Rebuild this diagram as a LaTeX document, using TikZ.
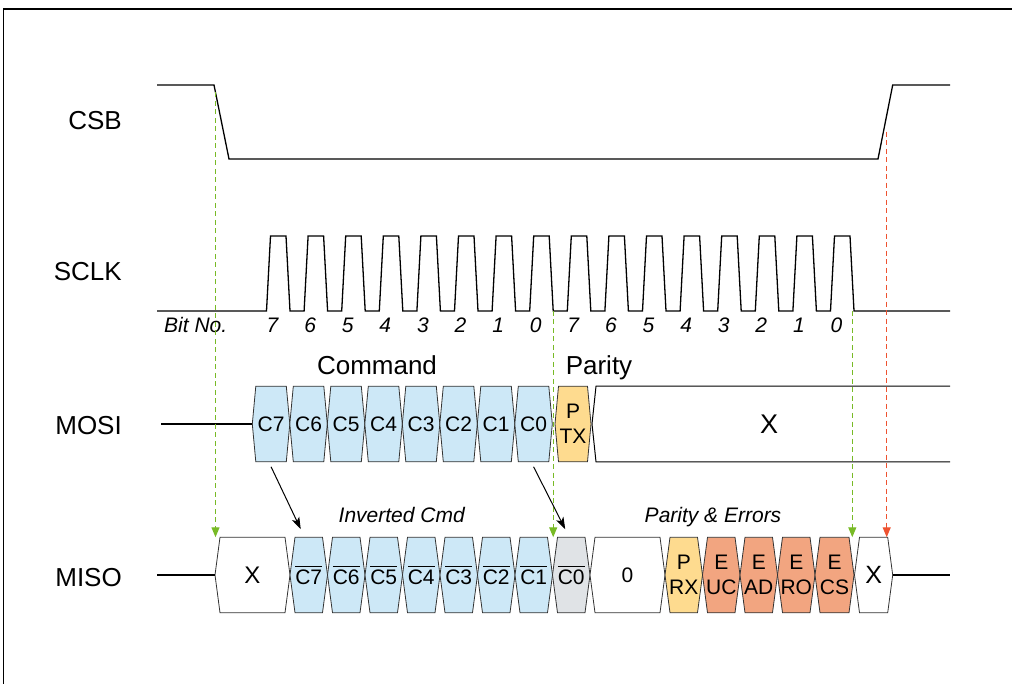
\documentclass[tikz,border=0pt]{standalone}
\usepackage{fontspec}
\setmainfont{Liberation Sans}
\usetikzlibrary{arrows.meta,calc}

\definecolor{cmdblue}{RGB}{205,232,247}
\definecolor{paryellow}{RGB}{254,219,143}
\definecolor{errorange}{RGB}{242,165,128}
\definecolor{invgray}{RGB}{224,227,230}
\definecolor{markgreen}{RGB}{120,186,38}
\definecolor{markred}{RGB}{238,82,48}

% one bus cell: name, left x, right x, middle y, slant, fill, text
\newcommand\sigcell[7]{%
  \path (#2,#4) ++({(#3-#2)/2},0) node[cellbox, minimum width={(#3-#2)*1pt}] (#1) {};
  \filldraw[cellline, fill=#6] (#1.west) -- ([xshift=#5pt]#1.north west)
    -- ([xshift=-#5pt]#1.north east) -- (#1.east)
    -- ([xshift=-#5pt]#1.south east) -- ([xshift=#5pt]#1.south west) -- cycle;
  \node[celltext] (#1-t) at (#1.center) {#7};
}
% inverted bit: text with a bar over it
\newcommand\inv[1]{\vbox{\hrule height 1.1pt\kern 2.6pt\hbox{#1}}}

\begin{document}
\begin{tikzpicture}[x=1pt,y=-1pt,
  sig/.style={line width=1.3pt, black, line join=miter},
  cellline/.style={draw=black!80, line width=0.8pt},
  cellbox/.style={inner sep=0pt, outer sep=0pt, minimum height=75.5pt},
  celltext/.style={inner sep=0pt, font=\fontsize{21}{24.5}\selectfont, align=center},
  lbl/.style={font=\fontsize{26}{31}\selectfont, anchor=base east, inner sep=0pt},
  head/.style={font=\fontsize{26}{31}\selectfont, anchor=base, inner sep=0pt},
  note/.style={font=\fontsize{21}{25}\selectfont\itshape, anchor=base, inner sep=0pt},
  bitno/.style={font=\fontsize{21}{25}\selectfont\itshape, anchor=base, inner sep=0pt},
  timemark/.style={dash pattern=on 5pt off 3.5pt, line width=1.3pt,
    -{Triangle[length=10pt,width=8pt]}},
  link/.style={line width=1pt, -{Stealth[length=12pt,width=8pt,inset=3pt]}}
]
\useasboundingbox (0,0) rectangle (1012,684);

% frame
\draw[line width=1.5pt] (3,9) -- (1012,9);
\draw[line width=1pt] (3.5,9) -- (3.5,684);

% signal names
\node[lbl] (lcsb)  at (122,130) {CSB};
\node[lbl] (lsclk) at (122,281) {SCLK};
\node[lbl] (lmosi) at (122,434) {MOSI};
\node[lbl] (lmiso) at (122,586) {MISO};

% chip select
\coordinate (csbA) at (157,85);
\coordinate (csbB) at (214,85);
\coordinate (csbC) at (229,159);
\coordinate (csbD) at (878,159);
\coordinate (csbE) at (892.7,85);
\coordinate (csbF) at (950,85);
\draw[sig] (csbA) -- (csbB) -- (csbC) -- (csbD) -- (csbE) -- (csbF);

% serial clock, 16 pulses
\draw[sig] (157,311) foreach \i in {0,...,15} {
    -- ({266.5+37.6*\i},311) -- ({270.5+37.6*\i},236)
    -- ({286+37.6*\i},236) -- ({290+37.6*\i},311) } -- (950,311);
\coordinate (clk8)  at (553.2,311);
\coordinate (clk16) at (852.3,311);

% bit numbers
\node[bitno, anchor=base west] (bitlbl) at (164,333) {Bit No.};
\foreach \b [count=\i from 0] in {7,6,5,4,3,2,1,0,7,6,5,4,3,2,1,0}
  \node[bitno] (bit\i) at ({272.5+37.6*\i},333) {\b};

% MOSI
\node[head] (hcmd) at (377,375) {Command};
\node[head] (hpar) at (599,375) {Parity};
\sigcell{mC7}{252.3}{289.8}{424}{3.5}{cmdblue}{C7}
\sigcell{mC6}{289.8}{327.3}{424}{3.5}{cmdblue}{C6}
\sigcell{mC5}{327.3}{364.8}{424}{3.5}{cmdblue}{C5}
\sigcell{mC4}{364.8}{402.3}{424}{3.5}{cmdblue}{C4}
\sigcell{mC3}{402.3}{439.8}{424}{3.5}{cmdblue}{C3}
\sigcell{mC2}{439.8}{477.3}{424}{3.5}{cmdblue}{C2}
\sigcell{mC1}{477.3}{514.8}{424}{3.5}{cmdblue}{C1}
\sigcell{mC0}{514.8}{552.3}{424}{3.5}{cmdblue}{C0}
\sigcell{mP}{555}{591}{424}{3.5}{paryellow}{P\\TX}
\coordinate (mosiIn) at (161,424);
\draw[sig] (mosiIn) -- (mC7.west);
\path (592,424) ++(179,0) node[cellbox, minimum width=358pt] (mX) {};
\draw[line width=1pt, black] (mX.north east) -- ([xshift=4pt]mX.north west) -- (mX.west)
  -- ([xshift=4pt]mX.south west) -- (mX.south east);
\node[celltext, font=\fontsize{27}{31}\selectfont] (mX-t) at ([xshift=-2pt]mX.center) {X};

% MISO
\node[note] (hinv) at (401.7,522) {Inverted Cmd};
\node[note] (herr) at (713,522) {Parity \& Errors};
\sigcell{sX}{215}{290}{575}{5}{white}{\fontsize{24}{28}\selectfont X}
\sigcell{sC7}{290}{327.5}{575}{5}{cmdblue}{\inv{C7}}
\sigcell{sC6}{327.5}{365}{575}{5}{cmdblue}{\inv{C6}}
\sigcell{sC5}{365}{402.5}{575}{5}{cmdblue}{\inv{C5}}
\sigcell{sC4}{402.5}{440}{575}{5}{cmdblue}{\inv{C4}}
\sigcell{sC3}{440}{477.5}{575}{5}{cmdblue}{\inv{C3}}
\sigcell{sC2}{477.5}{515}{575}{5}{cmdblue}{\inv{C2}}
\sigcell{sC1}{515}{552.5}{575}{5}{cmdblue}{\inv{C1}}
\sigcell{sC0}{552.5}{590}{575}{5}{invgray}{\inv{C0}}
\sigcell{sZ}{590}{665}{575}{5}{white}{0}
\sigcell{sP}{665}{702.5}{575}{5}{paryellow}{P\\RX}
\sigcell{sUC}{702.5}{740}{575}{5}{errorange}{E\\UC}
\sigcell{sAD}{740}{777.5}{575}{5}{errorange}{E\\AD}
\sigcell{sRO}{777.5}{815}{575}{5}{errorange}{E\\RO}
\sigcell{sCS}{815}{854}{575}{5}{errorange}{E\\CS}
\sigcell{sX2}{854.5}{892.7}{575}{5}{white}{\fontsize{25}{29}\selectfont X}
\coordinate (misoIn) at (157,575);
\coordinate (misoOut) at (950,575);
\draw[sig] (misoIn) -- (sX.west);
\draw[sig] (sX2.east) -- (misoOut);

% timing markers
\coordinate (csbFall) at ($(csbB)!0.1!(csbC)$);
\coordinate (csbRise) at (886.7,131.7);
\draw[timemark, markgreen] (csbFall) -- (csbFall |- sX.north);
\draw[timemark, markgreen] (clk8) -- (clk8 |- sC0.north);
\draw[timemark, markgreen] (clk16) -- (clk16 |- sCS.north);
\draw[timemark, markred] (csbRise) -- (csbRise |- sX2.north);

% command echoed inverted on MISO
\draw[link] ([yshift=-5pt]mC7.south) -- ([xshift=-8pt,yshift=8pt]sC7.north);
\draw[link] ([yshift=-5pt]mC0.south) -- ([xshift=-6pt,yshift=8pt]sC0.north);
\end{tikzpicture}
\end{document}
